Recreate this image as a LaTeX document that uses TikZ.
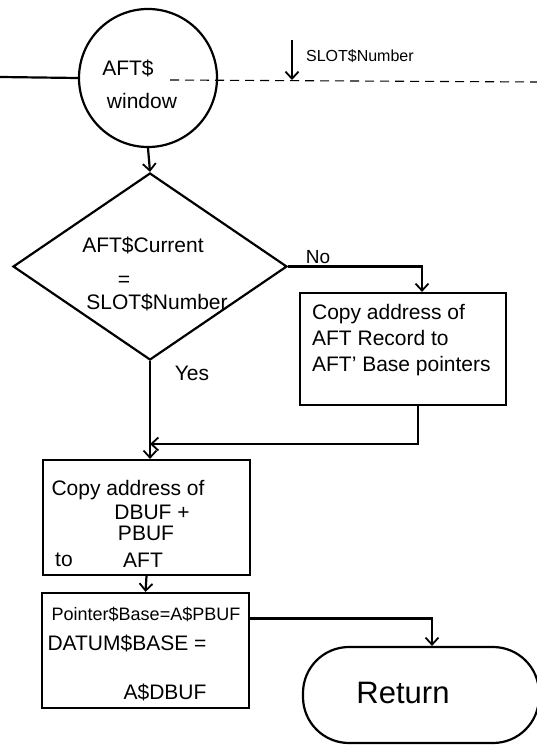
\documentclass[tikz,border=0pt]{standalone}
\usepackage{fontspec}
\setmainfont{Liberation Sans}
\usetikzlibrary{shapes.geometric,arrows.meta,calc}
\begin{document}
\begin{tikzpicture}[x=1pt,y=-1pt,line width=2.2pt,
  >={Straight Barb[length=7pt,width=13pt,line width=1.8pt]},
  hand/.style={font=\fontsize{21}{26}\selectfont,inner sep=0pt},
  small/.style={font=\fontsize{16}{20}\selectfont,inner sep=0pt},
  proc/.style={draw,rectangle,inner sep=0pt},
  conn/.style={line width=2.2pt}]
\useasboundingbox (0,0) rectangle (537,746);
\fill[white] (0,0) rectangle (537,746);

% entry circle
\node[circle,draw,minimum size=138pt,inner sep=0pt] (win) at (148,78) {};
\node[hand] (wint1) at (128,68) {AFT\$};
\node[hand] (wint2) at (142,101) {window};
\coordinate (lin) at (0,77);
\draw[conn] (lin) -- (win.west);
\coordinate (dstart) at (170,80);
\coordinate (dend) at (537,82);
\draw[line width=1.1pt,dash pattern=on 9pt off 6pt] (dstart) -- (dend);

% SLOT$Number input
\coordinate (s1) at (292,40);
\coordinate (s2) at (292,80);
\draw[conn,->] (s1) -- (s2);
\node[small,anchor=west] (slot) at (305,56) {SLOT\$Number};

% decision
\node[diamond,draw,minimum width=274pt,minimum height=187pt,inner sep=0pt] (dec) at (150,266.5) {};
\node[hand] (c1) at (143,245) {AFT\$Current};
\node[hand] (c2) at (124,281) {=};
\node[hand] (c3) at (157,302) {SLOT\$Number};
\node[font=\fontsize{19}{22}\selectfont,inner sep=0pt] (no) at (318,257) {No};
\node[hand] (yes) at (192,373) {Yes};

% box 1
\node[proc,minimum width=206pt,minimum height=112pt] (b1) at (403,349) {};
\node[hand,anchor=west,align=left] (b1t) at (311,340) {Copy address of\\AFT Record to\\AFT' Base pointers};

% box 2
\node[proc,minimum width=207pt,minimum height=115pt] (b2) at (146.5,517.5) {};
\node[hand] (b2t1) at (128,490) {Copy address of};
\node[hand] (b2t2) at (152,512) {DBUF +};
\node[hand] (b2t3) at (146,533) {PBUF};
\node[hand] (b2t4) at (64,560) {to};
\node[hand] (b2t5) at (143,560) {AFT};

% box 3
\node[proc,minimum width=207pt,minimum height=115pt] (b3) at (145.5,650.5) {};
\node[font=\fontsize{18}{22}\selectfont,inner sep=0pt] (b3t1) at (146,614) {Pointer\$Base=A\$PBUF};
\node[hand] (b3t2) at (127,643) {DATUM\$BASE =};
\node[hand] (b3t3) at (165,692) {A\$DBUF};

% terminal
\node[draw,rectangle,rounded corners=46pt,minimum width=236pt,minimum height=96pt,inner sep=0pt] (ret) at (421,695) {};
\node[font=\fontsize{31}{35}\selectfont,inner sep=0pt] (rett) at (403,693) {Return};

% connectors
\coordinate (j) at (150,444);
\draw[conn,->] (win.south) -- (dec.north);
\draw[conn,->] (dec.east) -| ([xshift=19pt]b1.north);
\draw[conn,->] (dec.south) -- (dec.south |- b2.north);
\draw[conn,->] ([xshift=15pt]b1.south) |- (j);
\draw[conn,->] (b2.south) -- (b3.north);
\draw[conn,->] ([yshift=32pt]b3.east) -| ([xshift=11pt]ret.north);
\end{tikzpicture}
\end{document}
